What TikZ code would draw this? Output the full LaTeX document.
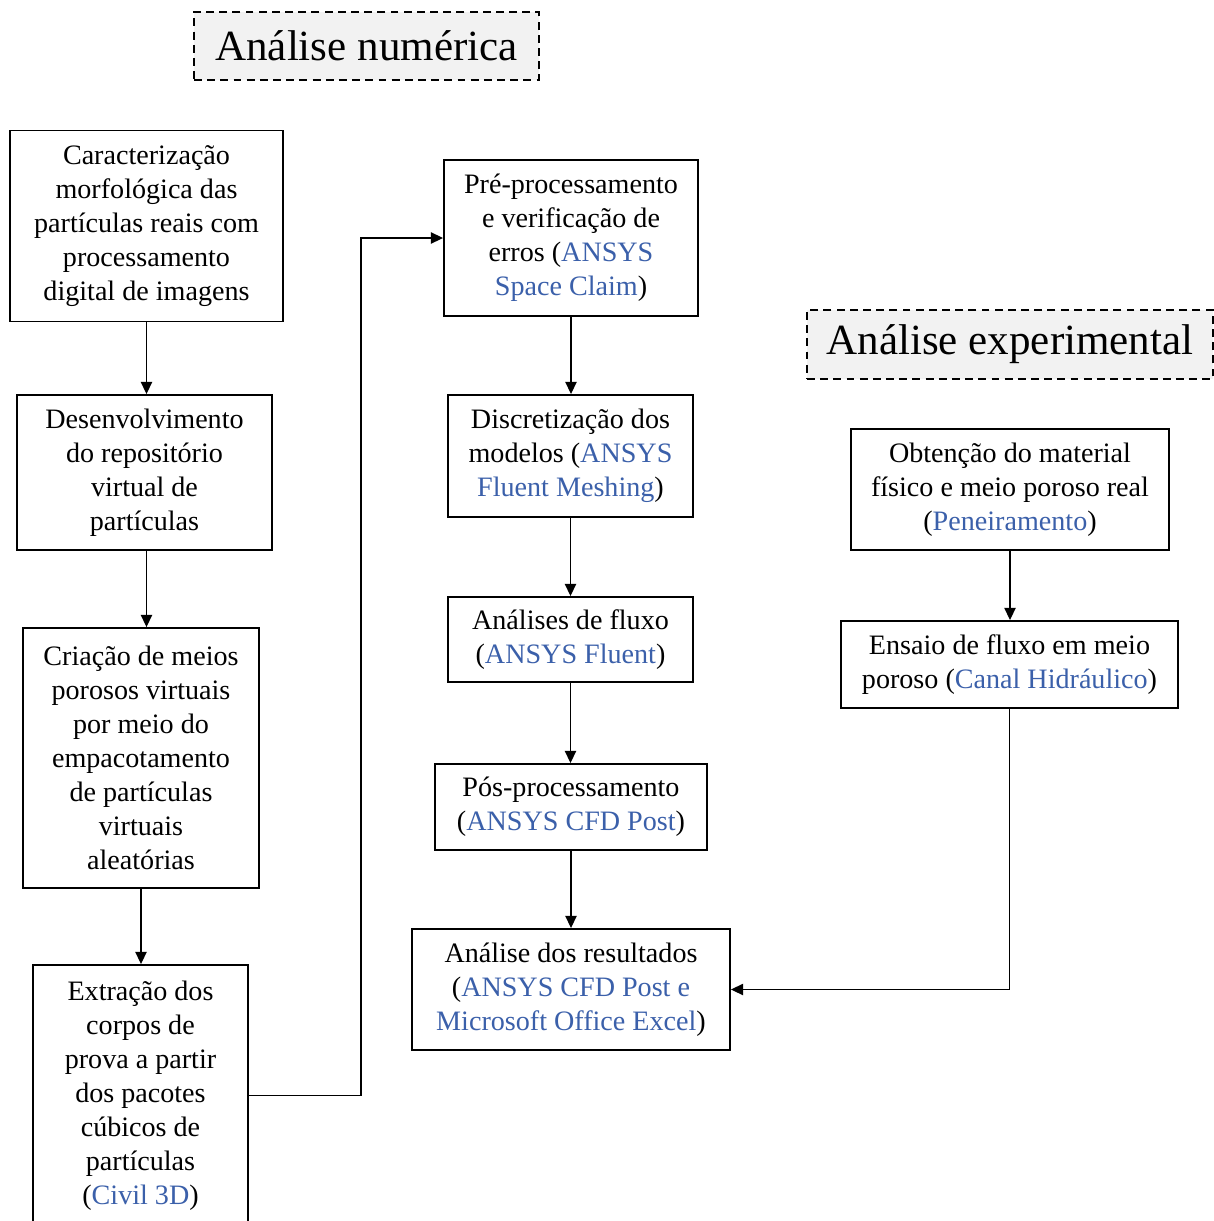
\documentclass[tikz,border=0pt]{standalone}
\usepackage{fontspec}
\setmainfont{Liberation Serif}
\usetikzlibrary{arrows.meta}
\definecolor{azul}{RGB}{59,96,170}
\definecolor{cinza}{RGB}{242,242,242}
\newcommand{\azt}[1]{\textcolor{azul}{#1}}
\begin{document}
\begin{tikzpicture}[x=0.02cm,y=-0.02cm,
  box/.style={draw, line width=1.1pt, align=center, inner sep=0pt,
    font=\fontsize{16}{19.3}\selectfont},
  head/.style={draw, dashed, dash pattern=on 4.5pt off 3pt, line width=1.1pt,
    fill=cinza, inner sep=0pt, font=\fontsize{24.5}{29}\selectfont},
  arr/.style={line width=0.7pt, -{Triangle[length=7pt,width=6.5pt]}}]
\useasboundingbox (0,0) rectangle (1214,1221);
\fill[white] (0,0) rectangle (1214,1221);

\node[head, minimum width=6.90cm, minimum height=1.36cm] (h1) at (366.5,46) {Análise numérica};
\node[head, minimum width=8.12cm, minimum height=1.38cm] (h2) at (1010,344.5) {Análise experimental};

\node[box, minimum width=5.46cm, minimum height=3.82cm] (n1) at (146.5,226)
  {Caracterização\\morfológica das\\partículas reais com\\processamento\\digital de imagens};
\node[box, minimum width=5.10cm, minimum height=3.10cm] (n2) at (144.5,472.5)
  {Desenvolvimento\\do repositório\\virtual de\\partículas};
\node[box, minimum width=4.72cm, minimum height=5.20cm] (n3) at (141,758)
  {Criação de meios\\porosos virtuais\\por meio do\\empacotamento\\de partículas\\virtuais\\aleatórias};
\node[box, minimum width=4.30cm, minimum height=5.22cm] (n4) at (140.5,1095.5)
  {Extração dos\\corpos de\\prova a partir\\dos pacotes\\cúbicos de\\partículas\\(\azt{Civil 3D})};

\node[box, minimum width=5.08cm, minimum height=3.12cm] (n5) at (571,238)
  {Pré-processamento\\e verificação de\\erros (\azt{ANSYS}\\\azt{Space Claim})};
\node[box, minimum width=4.90cm, minimum height=2.44cm] (n6) at (570.5,456)
  {Discretização dos\\modelos (\azt{ANSYS}\\\azt{Fluent Meshing})};
\node[box, minimum width=4.90cm, minimum height=1.70cm] (n7) at (570.5,639.5)
  {Análises de fluxo\\(\azt{ANSYS Fluent})};
\node[box, minimum width=5.44cm, minimum height=1.72cm] (n8) at (571,807)
  {Pós-processamento\\(\azt{ANSYS CFD Post})};
\node[box, minimum width=6.36cm, minimum height=2.42cm] (n9) at (571,989.5)
  {Análise dos resultados\\(\azt{ANSYS CFD Post e}\\\azt{Microsoft Office Excel})};

\node[box, minimum width=6.36cm, minimum height=2.42cm] (n10) at (1010,489.5)
  {Obtenção do material\\físico e meio poroso real\\(\azt{Peneiramento})};
\node[box, minimum width=6.74cm, minimum height=1.74cm] (n11) at (1009.5,664.5)
  {Ensaio de fluxo em meio\\poroso (\azt{Canal Hidráulico})};

\coordinate (k) at (361,0);

\draw[arr] (n1.south) -- (n1.south |- n2.north);
\draw[arr] ([xshift=0.04cm]n2.south) -- ([xshift=0.04cm]n2.south |- n3.north);
\draw[arr] (n3.south) -- (n3.south |- n4.north);
\draw[arr] (n4.east) -- (n4.east -| k) |- (n5.west);
\draw[arr] (n5.south) -- (n5.south |- n6.north);
\draw[arr] (n6.south) -- (n6.south |- n7.north);
\draw[arr] (n7.south) -- (n7.south |- n8.north);
\draw[arr] (n8.south) -- (n8.south |- n9.north);
\draw[arr] (n10.south) -- (n10.south |- n11.north);
\draw[arr] (n11.south) |- (n9.east);
\end{tikzpicture}
\end{document}
